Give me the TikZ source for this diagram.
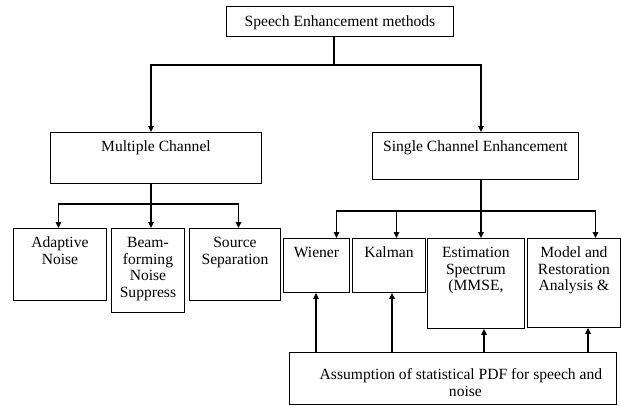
\documentclass[tikz,border=0pt]{standalone}
\usepackage{fontspec}
\setmainfont{Liberation Serif}
\usetikzlibrary{arrows.meta}
% box content: width, height, top padding, text
\newcommand\boxtxt[4]{\parbox[c][#2][t]{#1}{\centering\vspace*{#3}\strut #4}}
\begin{document}
\begin{tikzpicture}[x=1pt,y=-1pt,
  blk/.style={draw, line width=0.9pt, inner sep=0pt, anchor=north west,
    font=\fontsize{15.6}{16.7}\selectfont},
  link/.style={line width=1.3pt},
  arr/.style={line width=1.3pt, -{Triangle[length=6pt,width=5.5pt]}}]
\useasboundingbox (0,0) rectangle (621,405);

% top level
\node[blk] (root) at (226,6) {\boxtxt{227pt}{30pt}{8.5pt}{Speech Enhancement methods}};

% second level
\node[blk] (multi) at (50,132) {\boxtxt{211pt}{51pt}{7.3pt}{Multiple Channel}};
\node[blk] (single) at (372,132) {\boxtxt{206pt}{47pt}{7.3pt}{Single Channel Enhancement}};

% multiple-channel methods
\node[blk] (adapt) at (13,228) {\boxtxt{93pt}{72pt}{7.3pt}{Adaptive\\Noise}};
\node[blk] (beam) at (111,228) {\boxtxt{73pt}{84pt}{7.3pt}{Beam-\\forming\\Noise\\Suppress}};
\node[blk] (source) at (189,228) {\boxtxt{91pt}{72pt}{7.3pt}{Source\\Separation}};

% single-channel methods
\node[blk] (wiener) at (283,238) {\boxtxt{66pt}{54pt}{7.3pt}{Wiener}};
\node[blk] (kalman) at (352,238) {\boxtxt{73pt}{54pt}{7.3pt}{Kalman}};
\node[blk] (estim) at (427,238) {\boxtxt{97pt}{90pt}{7.3pt}{Estimation\\Spectrum\\(MMSE,}};
\node[blk] (model) at (527,238) {\boxtxt{93pt}{89pt}{7.3pt}{Model and\\Restoration\\Analysis \&}};

% common assumption
\node[blk] (pdf) at (289,352) {\boxtxt{327pt}{52pt}{15.3pt}{\hspace*{16pt}Assumption of statistical PDF for speech and\\\hspace*{25pt}noise}};

% branch points
\coordinate (j0) at (334,65);
\coordinate (j1) at (151,204);
\coordinate (j2) at (481,211);

\draw[link] (root.south -| j0) -- (j0);
\draw[arr] (j0) -| (multi.north -| j1);
\draw[arr] (j0) -| (single.north -| j2);

\draw[link] (multi.south -| j1) -- (j1);
\draw[arr] (j1) -| ([xshift=-1.5pt]adapt.north);
\draw[arr] (j1) -- (beam.north -| j1);
\draw[arr] (j1) -| ([xshift=3.5pt]source.north);

\draw[link] (single.south -| j2) -- (j2);
\draw[arr] (j2) -| ([xshift=20pt]wiener.north);
\draw[arr] (j2) -| ([xshift=7.5pt]kalman.north);
\draw[arr] (j2) -- (estim.north -| j2);
\draw[arr] (j2) -| ([xshift=21.5pt]model.north);

\draw[arr] ([xshift=27pt]pdf.north west) -- ([xshift=27pt]pdf.north west |- wiener.south);
\draw[arr] ([xshift=103pt]pdf.north west) -- ([xshift=103pt]pdf.north west |- kalman.south);
\draw[arr] ([xshift=195pt]pdf.north west) -- ([xshift=195pt]pdf.north west |- estim.south);
\draw[arr] ([xshift=299pt]pdf.north west) -- ([xshift=299pt]pdf.north west |- model.south);
\end{tikzpicture}
\end{document}
